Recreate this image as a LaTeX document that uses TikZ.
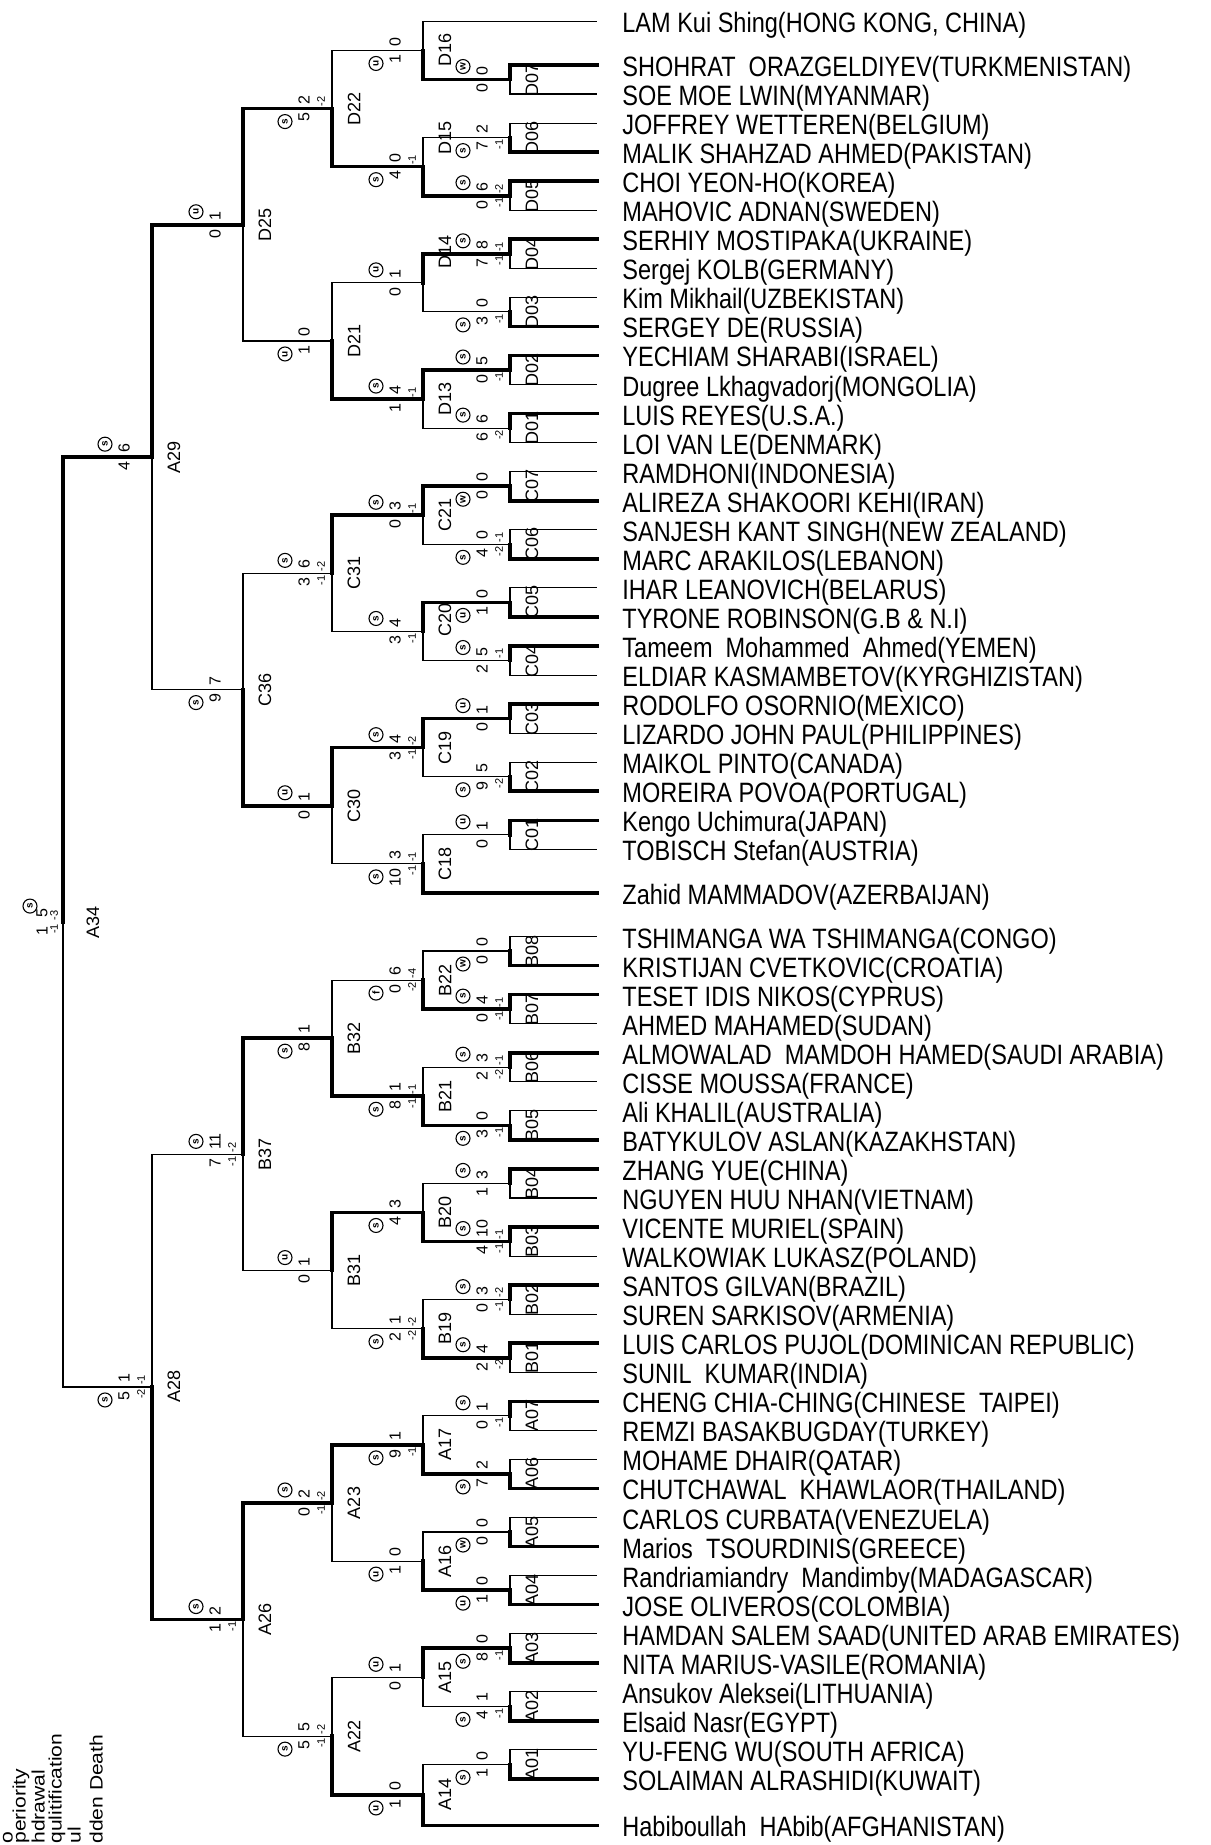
\documentclass[tikz,border=0pt]{standalone}
\usepackage{fontspec}
\setmainfont{Liberation Sans}
\newfontfamily\namefont[FakeStretch=0.84]{Liberation Sans}
\newfontfamily\legfont[FakeStretch=1.17]{Liberation Sans}
\usetikzlibrary{calc}
\pgfmathdeclarefunction{yy}{1}{\pgfmathparse{65+29.05*(#1)}}
\tikzset{
 win/.style={line width=1.8pt, line cap=rect},
 lose/.style={line width=0.55pt},
 pname/.style={anchor=west, inner xsep=12.5pt, inner ysep=0pt, text height=14.5pt, text depth=3pt, font=\namefont\fontsize{14}{14}\selectfont},
 mlab/.style={rotate=90, inner sep=0pt, font=\fontsize{9}{9}\selectfont},
 sc/.style={rotate=90, inner sep=0pt, font=\fontsize{8}{8}\selectfont},
 pn/.style={rotate=90, inner sep=0pt, font=\fontsize{5.5}{5.5}\selectfont},
 cl/.style={circle, draw, line width=0.55pt, inner sep=0pt, minimum size=7pt, rotate=90, font=\bfseries\fontsize{5}{5}\selectfont},
 leg/.style={rotate=90, anchor=west, inner sep=0pt, text height=6.5pt, text depth=1.9pt, font=\legfont\fontsize{9}{9}\selectfont},
}
\newcommand{\mt}[7]{%
  \coordinate (#1) at (#2,{yy(#3)});
  \if t#6
    \draw[lose] (#1) |- (#5);
    \draw[win] (#1) |- (#4);
  \else
    \draw[lose] (#1) |- (#4);
    \draw[win] (#1) |- (#5);
  \fi
  \node[mlab] (L#1) at ([xshift=11pt,yshift=#7pt]#1) {#1};
}
\newcommand{\res}[7]{%
  \node[sc,anchor=west] (#1t) at ([xshift=-14pt,yshift=2pt]#1) {#2};
  \node[sc,anchor=east] (#1b) at ([xshift=-14pt,yshift=-2pt]#1) {#4};
  \if\relax\detokenize{#3}\relax\else
    \node[pn,anchor=west] (#1tp) at ([xshift=-5.5pt,yshift=0.8pt]#1) {#3};\fi
  \if\relax\detokenize{#5}\relax\else
    \node[pn,anchor=east] (#1bp) at ([xshift=-5.5pt,yshift=-0.8pt]#1) {#5};\fi
  \if t#7
    \node[cl] (#1c) at ([xshift=-23.5pt,yshift=6.5pt]#1) {#6};
  \else
    \node[cl] (#1c) at ([xshift=-23.5pt,yshift=-6.5pt]#1) {#6};
  \fi
}
\begin{document}
\begin{tikzpicture}[x=0.5pt,y=-0.5pt]
\useasboundingbox (0,0) rectangle (1210,1845);
\fill[white] (0,0) rectangle (1210,1845);
\clip (0,0) rectangle (1210,1845);
% names
\node[pname] (nL) at (597,{yy(-1.5)}) {LAM Kui Shing(HONG KONG, CHINA)};
\node[pname] (n0) at (597,{yy(0)}) {SHOHRAT~ ORAZGELDIYEV(TURKMENISTAN)};
\node[pname] (n1) at (597,{yy(1)}) {SOE MOE LWIN(MYANMAR)};
\node[pname] (n2) at (597,{yy(2)}) {JOFFREY WETTEREN(BELGIUM)};
\node[pname] (n3) at (597,{yy(3)}) {MALIK SHAHZAD AHMED(PAKISTAN)};
\node[pname] (n4) at (597,{yy(4)}) {CHOI YEON-HO(KOREA)};
\node[pname] (n5) at (597,{yy(5)}) {MAHOVIC ADNAN(SWEDEN)};
\node[pname] (n6) at (597,{yy(6)}) {SERHIY MOSTIPAKA(UKRAINE)};
\node[pname] (n7) at (597,{yy(7)}) {Sergej KOLB(GERMANY)};
\node[pname] (n8) at (597,{yy(8)}) {Kim Mikhail(UZBEKISTAN)};
\node[pname] (n9) at (597,{yy(9)}) {SERGEY DE(RUSSIA)};
\node[pname] (n10) at (597,{yy(10)}) {YECHIAM SHARABI(ISRAEL)};
\node[pname] (n11) at (597,{yy(11)}) {Dugree Lkhagvadorj(MONGOLIA)};
\node[pname] (n12) at (597,{yy(12)}) {LUIS REYES(U.S.A.)};
\node[pname] (n13) at (597,{yy(13)}) {LOI VAN LE(DENMARK)};
\node[pname] (n14) at (597,{yy(14)}) {RAMDHONI(INDONESIA)};
\node[pname] (n15) at (597,{yy(15)}) {ALIREZA SHAKOORI KEHI(IRAN)};
\node[pname] (n16) at (597,{yy(16)}) {SANJESH KANT SINGH(NEW ZEALAND)};
\node[pname] (n17) at (597,{yy(17)}) {MARC ARAKILOS(LEBANON)};
\node[pname] (n18) at (597,{yy(18)}) {IHAR LEANOVICH(BELARUS)};
\node[pname] (n19) at (597,{yy(19)}) {TYRONE ROBINSON(G.B \& N.I)};
\node[pname] (n20) at (597,{yy(20)}) {Tameem~ Mohammed~ Ahmed(YEMEN)};
\node[pname] (n21) at (597,{yy(21)}) {ELDIAR KASMAMBETOV(KYRGHIZISTAN)};
\node[pname] (n22) at (597,{yy(22)}) {RODOLFO OSORNIO(MEXICO)};
\node[pname] (n23) at (597,{yy(23)}) {LIZARDO JOHN PAUL(PHILIPPINES)};
\node[pname] (n24) at (597,{yy(24)}) {MAIKOL PINTO(CANADA)};
\node[pname] (n25) at (597,{yy(25)}) {MOREIRA POVOA(PORTUGAL)};
\node[pname] (n26) at (597,{yy(26)}) {Kengo Uchimura(JAPAN)};
\node[pname] (n27) at (597,{yy(27)}) {TOBISCH Stefan(AUSTRIA)};
\node[pname] (nZ) at (597,{yy(28.5)}) {Zahid MAMMADOV(AZERBAIJAN)};
\node[pname] (n30) at (597,{yy(30)}) {TSHIMANGA WA TSHIMANGA(CONGO)};
\node[pname] (n31) at (597,{yy(31)}) {KRISTIJAN CVETKOVIC(CROATIA)};
\node[pname] (n32) at (597,{yy(32)}) {TESET IDIS NIKOS(CYPRUS)};
\node[pname] (n33) at (597,{yy(33)}) {AHMED MAHAMED(SUDAN)};
\node[pname] (n34) at (597,{yy(34)}) {ALMOWALAD~ MAMDOH HAMED(SAUDI ARABIA)};
\node[pname] (n35) at (597,{yy(35)}) {CISSE MOUSSA(FRANCE)};
\node[pname] (n36) at (597,{yy(36)}) {Ali KHALIL(AUSTRALIA)};
\node[pname] (n37) at (597,{yy(37)}) {BATYKULOV ASLAN(KAZAKHSTAN)};
\node[pname] (n38) at (597,{yy(38)}) {ZHANG YUE(CHINA)};
\node[pname] (n39) at (597,{yy(39)}) {NGUYEN HUU NHAN(VIETNAM)};
\node[pname] (n40) at (597,{yy(40)}) {VICENTE MURIEL(SPAIN)};
\node[pname] (n41) at (597,{yy(41)}) {WALKOWIAK LUKASZ(POLAND)};
\node[pname] (n42) at (597,{yy(42)}) {SANTOS GILVAN(BRAZIL)};
\node[pname] (n43) at (597,{yy(43)}) {SUREN SARKISOV(ARMENIA)};
\node[pname] (n44) at (597,{yy(44)}) {LUIS CARLOS PUJOL(DOMINICAN REPUBLIC)};
\node[pname] (n45) at (597,{yy(45)}) {SUNIL~ KUMAR(INDIA)};
\node[pname] (n46) at (597,{yy(46)}) {CHENG CHIA-CHING(CHINESE~ TAIPEI)};
\node[pname] (n47) at (597,{yy(47)}) {REMZI BASAKBUGDAY(TURKEY)};
\node[pname] (n48) at (597,{yy(48)}) {MOHAME DHAIR(QATAR)};
\node[pname] (n49) at (597,{yy(49)}) {CHUTCHAWAL~ KHAWLAOR(THAILAND)};
\node[pname] (n50) at (597,{yy(50)}) {CARLOS CURBATA(VENEZUELA)};
\node[pname] (n51) at (597,{yy(51)}) {Marios~ TSOURDINIS(GREECE)};
\node[pname] (n52) at (597,{yy(52)}) {Randriamiandry~ Mandimby(MADAGASCAR)};
\node[pname] (n53) at (597,{yy(53)}) {JOSE OLIVEROS(COLOMBIA)};
\node[pname] (n54) at (597,{yy(54)}) {HAMDAN SALEM SAAD(UNITED ARAB EMIRATES)};
\node[pname] (n55) at (597,{yy(55)}) {NITA MARIUS-VASILE(ROMANIA)};
\node[pname] (n56) at (597,{yy(56)}) {Ansukov Aleksei(LITHUANIA)};
\node[pname] (n57) at (597,{yy(57)}) {Elsaid Nasr(EGYPT)};
\node[pname] (n58) at (597,{yy(58)}) {YU-FENG WU(SOUTH AFRICA)};
\node[pname] (n59) at (597,{yy(59)}) {SOLAIMAN ALRASHIDI(KUWAIT)};
\node[pname] (nH) at (597,{yy(60.6)}) {Habiboullah~ HAbib(AFGHANISTAN)};
% first round
\mt{D07}{510}{0.5}{n0.west}{n1.west}{t}{0}
\mt{D06}{510}{2.5}{n2.west}{n3.west}{b}{0}
\mt{D05}{510}{4.5}{n4.west}{n5.west}{t}{0}
\mt{D04}{510}{6.5}{n6.west}{n7.west}{t}{0}
\mt{D03}{510}{8.5}{n8.west}{n9.west}{b}{0}
\mt{D02}{510}{10.5}{n10.west}{n11.west}{t}{0}
\mt{D01}{510}{12.5}{n12.west}{n13.west}{t}{0}
\mt{C07}{510}{14.5}{n14.west}{n15.west}{b}{0}
\mt{C06}{510}{16.5}{n16.west}{n17.west}{b}{0}
\mt{C05}{510}{18.5}{n18.west}{n19.west}{b}{0}
\mt{C04}{510}{20.5}{n20.west}{n21.west}{t}{0}
\mt{C03}{510}{22.5}{n22.west}{n23.west}{t}{0}
\mt{C02}{510}{24.5}{n24.west}{n25.west}{b}{0}
\mt{C01}{510}{26.5}{n26.west}{n27.west}{t}{0}
\mt{B08}{510}{30.5}{n30.west}{n31.west}{b}{0}
\mt{B07}{510}{32.5}{n32.west}{n33.west}{t}{0}
\mt{B06}{510}{34.5}{n34.west}{n35.west}{t}{0}
\mt{B05}{510}{36.5}{n36.west}{n37.west}{b}{0}
\mt{B04}{510}{38.5}{n38.west}{n39.west}{t}{0}
\mt{B03}{510}{40.5}{n40.west}{n41.west}{t}{0}
\mt{B02}{510}{42.5}{n42.west}{n43.west}{t}{0}
\mt{B01}{510}{44.5}{n44.west}{n45.west}{t}{0}
\mt{A07}{510}{46.5}{n46.west}{n47.west}{t}{0}
\mt{A06}{510}{48.5}{n48.west}{n49.west}{b}{0}
\mt{A05}{510}{50.5}{n50.west}{n51.west}{b}{0}
\mt{A04}{510}{52.5}{n52.west}{n53.west}{b}{0}
\mt{A03}{510}{54.5}{n54.west}{n55.west}{b}{0}
\mt{A02}{510}{56.5}{n56.west}{n57.west}{b}{0}
\mt{A01}{510}{58.5}{n58.west}{n59.west}{b}{0}
% second round
\mt{D16}{423}{-0.5}{nL.west}{D07}{b}{0}
\mt{D15}{423}{3.5}{D06}{D05}{b}{14.5}
\mt{D14}{423}{7.5}{D04}{D03}{t}{15.5}
\mt{D13}{423}{11.5}{D02}{D01}{t}{0}
\mt{C21}{423}{15.5}{C07}{C06}{t}{0}
\mt{C20}{423}{19.5}{C05}{C04}{t}{5.5}
\mt{C19}{423}{23.5}{C03}{C02}{t}{0}
\mt{C18}{423}{27.5}{C01}{nZ.west}{b}{0}
\mt{B22}{423}{31.5}{B08}{B07}{b}{0}
\mt{B21}{423}{35.5}{B06}{B05}{b}{0}
\mt{B20}{423}{39.5}{B04}{B03}{b}{0}
\mt{B19}{423}{43.5}{B02}{B01}{b}{0}
\mt{A17}{423}{47.5}{A07}{A06}{b}{0}
\mt{A16}{423}{51.5}{A05}{A04}{b}{0}
\mt{A15}{423}{55.5}{A03}{A02}{t}{0}
\mt{A14}{423}{59.55}{A01}{nH.west}{b}{0}
% third round
\mt{D22}{332}{1.5}{D16}{D15}{b}{0}
\mt{D21}{332}{9.5}{D14}{D13}{b}{0}
\mt{C31}{332}{17.5}{C21}{C20}{t}{0}
\mt{C30}{332}{25.5}{C19}{C18}{t}{0}
\mt{B32}{332}{33.5}{B22}{B21}{b}{0}
\mt{B31}{332}{41.5}{B20}{B19}{t}{0}
\mt{A23}{332}{49.5}{A17}{A16}{t}{0}
\mt{A22}{332}{57.525}{A15}{A14}{b}{0}
% fourth round
\mt{D25}{243}{5.5}{D22}{D21}{t}{0}
\mt{C36}{243}{21.5}{C31}{C30}{b}{0}
\mt{B37}{243}{37.5}{B32}{B31}{t}{0}
\mt{A26}{243}{53.5125}{A23}{A22}{t}{0}
% semis
\mt{A29}{152}{13.5}{D25}{C36}{t}{0}
\mt{A28}{152}{45.506}{B37}{A26}{b}{0}
% final
\coordinate (A34) at (63,{yy(29.503)});
\draw[lose] (A34) |- (A28);
\draw[win] (A34) |- (A29);
\node[mlab] (LA34) at ([xshift=15pt]A34) {A34};
% results
\res{D07}{0}{}{0}{}{w}{t}
\res{D06}{2}{}{7}{-1}{s}{b}
\res{D05}{6}{-2}{0}{-1}{s}{t}
\res{D04}{8}{-1}{7}{-1}{s}{t}
\res{D03}{0}{}{3}{-1}{s}{b}
\res{D02}{5}{}{0}{-1}{s}{t}
\res{D01}{6}{}{6}{-2}{s}{t}
\res{C07}{0}{}{0}{}{w}{b}
\res{C06}{0}{-1}{4}{-2}{s}{b}
\res{C05}{0}{}{1}{}{u}{b}
\res{C04}{5}{-1}{2}{}{s}{t}
\res{C03}{1}{}{0}{}{u}{t}
\res{C02}{5}{}{9}{-2}{s}{b}
\res{C01}{1}{}{0}{}{u}{t}
\res{B08}{0}{}{0}{}{w}{b}
\res{B07}{4}{-1}{0}{-1}{s}{t}
\res{B06}{3}{-1}{2}{-2}{s}{t}
\res{B05}{0}{}{3}{-1}{s}{b}
\res{B04}{3}{}{1}{}{s}{t}
\res{B03}{10}{-1}{4}{-1}{s}{t}
\res{B02}{3}{-2}{0}{-1}{s}{t}
\res{B01}{4}{}{2}{-2}{s}{t}
\res{A07}{1}{}{0}{-1}{s}{t}
\res{A06}{2}{}{7}{}{s}{b}
\res{A05}{0}{}{0}{}{w}{b}
\res{A04}{0}{}{1}{}{u}{b}
\res{A03}{0}{}{8}{-1}{s}{b}
\res{A02}{1}{}{4}{-1}{s}{b}
\res{A01}{0}{}{1}{}{s}{b}
\res{D16}{0}{}{1}{}{u}{b}
\res{D15}{0}{-1}{4}{}{s}{b}
\res{D14}{1}{}{0}{}{u}{t}
\res{D13}{4}{-1}{1}{}{s}{t}
\res{C21}{3}{-1}{0}{}{s}{t}
\res{C20}{4}{}{3}{-1}{s}{t}
\res{C19}{4}{-2}{3}{-1}{s}{t}
\res{C18}{3}{-1}{10}{-1}{s}{b}
\res{B22}{6}{-4}{0}{-2}{f}{b}
\res{B21}{1}{-1}{8}{-1}{s}{b}
\res{B20}{3}{}{4}{}{s}{b}
\res{B19}{1}{-2}{2}{-2}{s}{b}
\res{A17}{1}{}{9}{-1}{s}{b}
\res{A16}{0}{}{1}{}{u}{b}
\res{A15}{1}{}{0}{}{u}{t}
\res{A14}{0}{}{1}{}{u}{b}
\res{D22}{2}{-2}{5}{}{s}{b}
\res{D21}{0}{}{1}{}{u}{b}
\res{C31}{6}{-2}{3}{-1}{s}{t}
\res{C30}{1}{}{0}{}{u}{t}
\res{B32}{1}{}{8}{}{s}{b}
\res{B31}{1}{}{0}{}{u}{t}
\res{A23}{2}{-2}{0}{-1}{s}{t}
\res{A22}{5}{-2}{5}{-1}{s}{b}
\res{D25}{1}{}{0}{}{u}{t}
\res{C36}{7}{}{9}{}{s}{b}
\res{B37}{11}{-2}{7}{-1}{s}{t}
\res{A26}{2}{}{1}{-1}{s}{t}
\res{A29}{6}{}{4}{}{s}{t}
\res{A28}{1}{-1}{5}{-2}{s}{b}
% final result (left of the final line)
\node[sc,anchor=west] (A34t) at ([xshift=-10.5pt,yshift=2pt]A34) {5};
\node[sc,anchor=east] (A34b) at ([xshift=-10.5pt,yshift=-2pt]A34) {1};
\node[pn,anchor=west] (A34tp) at ([xshift=-4.5pt,yshift=0.8pt]A34) {-3};
\node[pn,anchor=east] (A34bp) at ([xshift=-4.5pt,yshift=-0.8pt]A34) {-1};
\node[cl] (A34c) at ([xshift=-16.5pt,yshift=8pt]A34) {s};
% legend (only the part that shows above the lower edge)
\node[leg] (lg1) at (8,1844) {o};
\node[leg] (lg2) at (21,1844) {periority};
\node[leg] (lg3) at (40,1844) {hdrawal};
\node[leg] (lg4) at (57,1844) {qulitification};
\node[leg] (lg5) at (76,1844) {ul};
\node[leg] (lg6) at (98,1844) {dden Death};
\end{tikzpicture}
\end{document}
